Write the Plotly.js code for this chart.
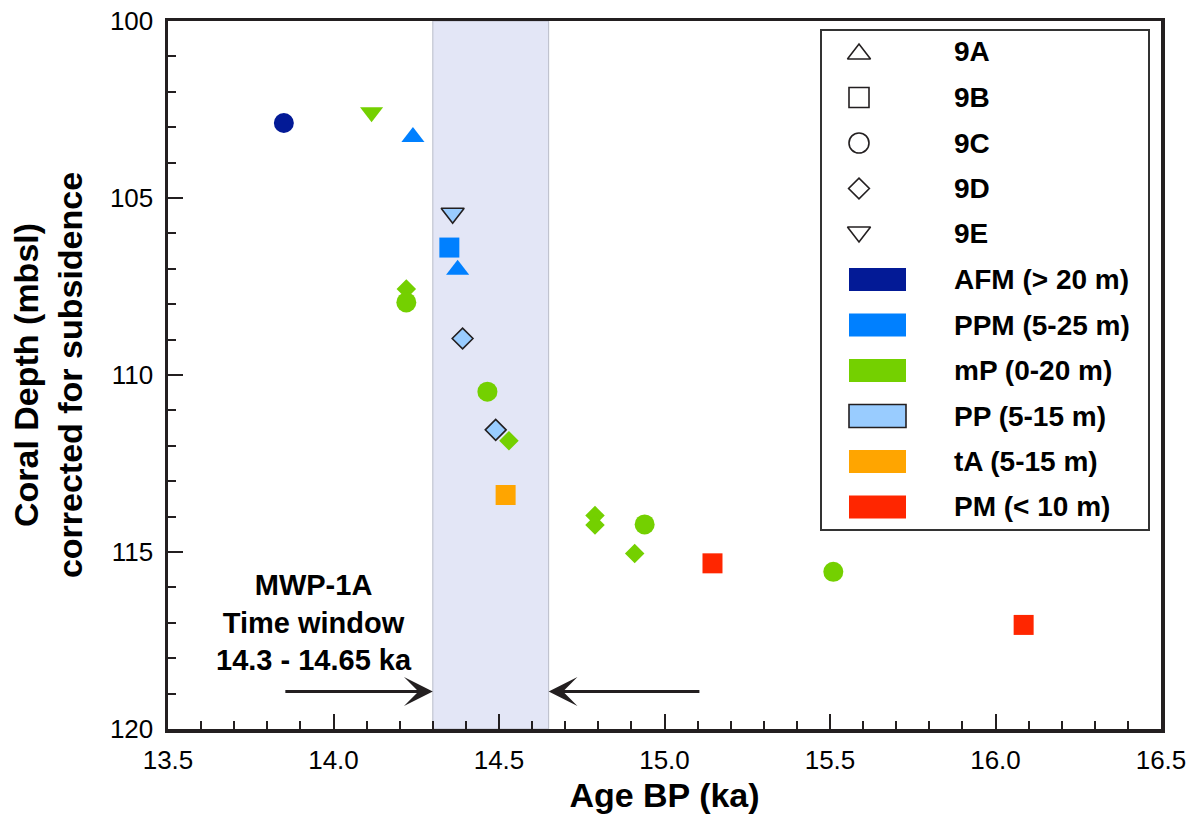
<!DOCTYPE html>
<html>
<head>
<meta charset="utf-8">
<script src="https://cdn.plot.ly/plotly-3.0.1.min.js"></script>
<style>html,body{margin:0;padding:0;background:#fff;} #chart{width:1196px;height:821px;}</style>
</head>
<body>
<div id="chart"></div>
<script>
// ---- data ----
var age   = [13.85, 14.115, 14.24, 14.36, 14.35, 14.375, 14.22, 14.22, 14.39, 14.465, 14.49, 14.53, 14.52, 14.79, 14.79, 14.94, 14.91, 15.145, 15.51, 16.085];
var depth = [102.88, 102.58, 103.28, 105.43, 106.40, 107.03, 107.57, 107.95, 108.97, 110.47, 111.55, 111.86, 113.39, 113.97, 114.24, 114.22, 115.04, 115.32, 115.56, 117.06];
var core  = ['9C','9E','9A','9E','9B','9A','9D','9C','9D','9C','9D','9D','9B','9D','9D','9C','9D','9B','9C','9B'];
var assemblage = ['AFM','mP','PPM','PP','PPM','PPM','mP','mP','PP','mP','PP','mP','tA','mP','mP','mP','mP','PM','mP','PM'];

var coreNames = ['9A','9B','9C','9D','9E'];
var assemblageNames = ['AFM','PPM','mP','PP','tA','PM'];
var assemblageLabels = ['AFM (> 20 m)','PPM (5-25 m)','mP (0-20 m)','PP (5-15 m)','tA (5-15 m)','PM (< 10 m)'];

var windowStart = 14.3, windowEnd = 14.65;
var xTicks = [13.5, 14.0, 14.5, 15.0, 15.5, 16.0, 16.5];
var yTicks = [100, 105, 110, 115, 120];

// ---- styles ----
var symbolOf = {'9A':'triangle-up','9B':'square','9C':'circle','9D':'diamond','9E':'triangle-down'};
var sizeOf   = {'9A':20,'9B':20,'9C':20,'9D':15,'9E':20};
var colorOf  = {AFM:'#031a96', PPM:'#0080ff', mP:'#74d000', PP:'#99ccff', tA:'#ffa500', PM:'#ff2600'};
var INK = '#231f20';
var FONT = 'Liberation Sans, Arial, Helvetica, sans-serif';

var points = {
  type:'scatter', mode:'markers', x: age, y: depth, showlegend:false, hoverinfo:'x+y',
  marker:{
    opacity:1,
    symbol: core.map(function(c){return symbolOf[c];}),
    size: core.map(function(c,i){return sizeOf[c] + (assemblage[i]==='PP' && c==='9D' ? 1 : 0);}),
    color: assemblage.map(function(a){return colorOf[a];}),
    line:{
      width: assemblage.map(function(a){return a==='PP' ? 1.6 : 0;}),
      color: assemblage.map(function(a){return a==='PP' ? INK : 'rgba(0,0,0,0)';})
    }
  }
};

// ---- hand-built legend (box, keys, labels) ----
var PL = 168, PR = 1161, PT = 21, PB = 729;
function px2paperX(p){ return (p-PL)/(PR-PL); }
function px2paperY(p){ return 1-(p-PT)/(PB-PT); }
var legTop = 52, legStep = 45.5, legSymX = 859, legPatch0 = 849, legPatch1 = 906, legTextX = 952;

var legendSymbols = {
  type:'scatter', mode:'markers', xaxis:'x2', yaxis:'y2', showlegend:false, hoverinfo:'skip',
  x: coreNames.map(function(){return px2paperX(legSymX);}),
  y: coreNames.map(function(c,i){return px2paperY(legTop + i*legStep + (c==='9A'?2:(c==='9E'?-2:0)));}),
  marker:{
    opacity:1,
    symbol: coreNames.map(function(c){return symbolOf[c]+'-open';}),
    size: coreNames.map(function(c){return c==='9D'?16:20;}),
    color: INK, line:{width:1.6, color:INK}
  }
};

var shapes = [
  {type:'rect', xref:'x', yref:'paper', x0:windowStart, x1:windowEnd, y0:0, y1:1,
   fillcolor:'#e3e6f6', line:{color:'#b9bcc9', width:1}, layer:'below'},
  {type:'rect', xref:'paper', yref:'paper', x0:px2paperX(821), x1:px2paperX(1149), y0:px2paperY(530), y1:px2paperY(30),
   fillcolor:'rgba(0,0,0,0)', line:{color:'#333333', width:2}, layer:'above'}
];
var annotations = [];
var allLabels = coreNames.concat(assemblageLabels);
allLabels.forEach(function(lbl,i){
  var yc = legTop + i*legStep;
  annotations.push({xref:'paper', yref:'paper', x:px2paperX(legTextX), y:px2paperY(yc), xanchor:'left', yanchor:'middle',
    text:'<b>'+lbl+'</b>', showarrow:false, font:{family:FONT, size:28, color:'#000'}});
  if(i>=coreNames.length){
    var a = assemblageNames[i-coreNames.length];
    shapes.push({type:'rect', xref:'paper', yref:'paper', x0:px2paperX(legPatch0), x1:px2paperX(legPatch1),
      y0:px2paperY(yc+11.5), y1:px2paperY(yc-11.5), fillcolor:colorOf[a],
      line:{color:a==='PP'?INK:colorOf[a], width:a==='PP'?1.6:0}, layer:'above'});
  }
});

// MWP-1A annotation and arrows
annotations.push({xref:'x', yref:'y', x:13.94, y:117.0, showarrow:false, xanchor:'center', yanchor:'middle',
  text:'<b>MWP-1A</b><br><b>Time window</b><br><b>14.3 - 14.65 ka</b>', font:{family:FONT, size:29, color:'#000'}});
annotations.push({xref:'x', yref:'y', axref:'x', ayref:'y', x:windowStart, y:118.94, ax:13.85, ay:118.94, text:'',
  showarrow:true, arrowhead:3, arrowsize:1.5, arrowwidth:3.2, arrowcolor:INK});
annotations.push({xref:'x', yref:'y', axref:'x', ayref:'y', x:windowEnd, y:118.94, ax:15.11, ay:118.94, text:'',
  showarrow:true, arrowhead:3, arrowsize:1.5, arrowwidth:3.2, arrowcolor:INK});

var layout = {
  width:1196, height:821,
  margin:{l:PL, r:1196-PR, t:PT, b:821-PB, pad:0},
  paper_bgcolor:'#ffffff', plot_bgcolor:'#ffffff',
  font:{family:FONT, color:'#000'},
  showlegend:false,
  xaxis:{
    range:[13.5,16.5], tickvals:xTicks, ticktext:xTicks.map(function(v){return v.toFixed(1);}),
    ticks:'inside', ticklen:15, tickwidth:2, tickcolor:INK,
    minor:{dtick:0.1, ticks:'inside', ticklen:8, tickwidth:2, tickcolor:INK, showgrid:false},
    showline:true, linewidth:3.5, linecolor:INK, mirror:true, showgrid:false, zeroline:false,
    tickfont:{family:FONT, size:26, color:'#000'}, ticklabelstandoff:5,
    title:{text:'<b>Age BP (ka)</b>', font:{family:FONT, size:34, color:'#000'}, standoff:10}
  },
  yaxis:{
    range:[120,100], tickvals:yTicks, ticktext:yTicks.map(String),
    ticks:'inside', ticklen:15, tickwidth:2, tickcolor:INK,
    minor:{dtick:1, ticks:'inside', ticklen:8, tickwidth:2, tickcolor:INK, showgrid:false},
    showline:true, linewidth:3.5, linecolor:INK, mirror:true, showgrid:false, zeroline:false,
    tickfont:{family:FONT, size:26, color:'#000'}, ticklabelstandoff:6,
    title:{text:'<b>Coral Depth (mbsl)</b><br><b>corrected for subsidence</b>', font:{family:FONT, size:34, color:'#000'}, standoff:18}
  },
  xaxis2:{overlaying:'x', range:[0,1], visible:false, fixedrange:true},
  yaxis2:{overlaying:'y', range:[0,1], visible:false, fixedrange:true},
  shapes:shapes,
  annotations:annotations
};

Plotly.newPlot('chart', [points, legendSymbols], layout, {displayModeBar:false, staticPlot:true});
</script>
</body>
</html>
